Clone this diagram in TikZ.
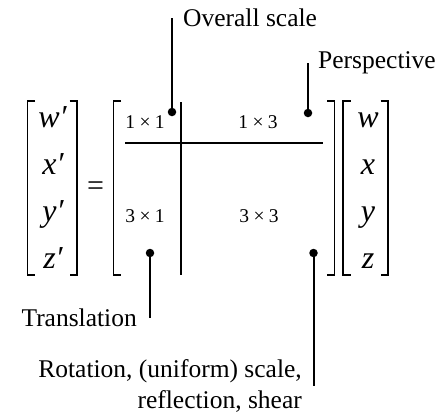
\documentclass[tikz,border=0pt]{standalone}
\usepackage{fontspec}
\setmainfont{Liberation Serif}
\begin{document}
\begin{tikzpicture}[x=1pt,y=-1pt,
  brk/.style={line width=1.3pt},
  lead/.style={line width=2pt},
  divline/.style={line width=1.5pt},
  dotn/.style={circle,fill=black,inner sep=0pt,minimum size=8.5pt},
  lab/.style={inner sep=0pt,font=\fontsize{25.5}{31}\selectfont},
  ent/.style={inner sep=0pt,anchor=base,font=\fontsize{32}{38}\selectfont\itshape},
  blk/.style={inner sep=0pt,anchor=base,font=\fontsize{19.5}{24}\selectfont}]
\useasboundingbox (0,0) rectangle (442,416);
% brackets
\draw[brk] (35,101) -- (27.5,101) -- (27.5,275) -- (35,275);
\draw[brk] (69.5,101) -- (77,101) -- (77,275) -- (69.5,275);
\draw[brk] (121,101) -- (113.5,101) -- (113.5,275) -- (121,275);
\draw[brk] (327,101) -- (334.5,101) -- (334.5,275) -- (327,275);
\draw[brk] (350.5,101) -- (343,101) -- (343,275) -- (350.5,275);
\draw[brk] (380.5,101) -- (388,101) -- (388,275) -- (380.5,275);
% left vector
\node[ent] (wp) at (52.5,127) {w′};
\node[ent] (xp) at (53,174) {x′};
\node[ent] (yp) at (53,221) {y′};
\node[ent] (zp) at (53,268) {z′};
% equals
\node[inner sep=0pt,font=\fontsize{30}{36}\selectfont] (eq) at (95.5,188.5) {=};
% right vector
\node[ent] (w) at (368,127) {w};
\node[ent] (x) at (368,174) {x};
\node[ent] (y) at (368,221) {y};
\node[ent] (z) at (368,268) {z};
% blocks
\node[blk] (b11) at (145,128) {1\hspace{0.22em}×\hspace{0.22em}1};
\node[blk] (b13) at (258,128) {1\hspace{0.22em}×\hspace{0.22em}3};
\node[blk] (b31) at (145,222) {3\hspace{0.22em}×\hspace{0.22em}1};
\node[blk] (b33) at (259,222) {3\hspace{0.22em}×\hspace{0.22em}3};
% dividers
\coordinate (hl) at (125,143);
\coordinate (hr) at (323,143);
\coordinate (vt) at (181,102);
\coordinate (vb) at (181,275);
\draw[divline] (hl) -- (hr);
\draw[divline] (vt) -- (vb);
% dots
\node[dotn] (dOS) at (172,112) {};
\node[dotn] (dP) at (308,113) {};
\node[dotn] (dT) at (150,253) {};
\node[dotn] (dR) at (313.5,253) {};
% labels
\node[lab,anchor=west] (lOS) at (183,18) {Overall scale};
\node[lab,anchor=west] (lP) at (318,63) {Perspective};
\node[lab,anchor=east] (lT) at (137,318) {Translation};
\node[lab,anchor=east,align=right] (lR) at (302,386) {Rotation, (uniform) scale,\\reflection, shear};
% leaders
\draw[lead] (dOS.center) -- (dOS |- lOS.west);
\draw[lead] (dP.center) -- (dP |- lP.west);
\draw[lead] (dT.center) -- (dT |- lT.east);
\draw[lead] (dR.center) -- (dR |- lR.east);
\end{tikzpicture}
\end{document}
